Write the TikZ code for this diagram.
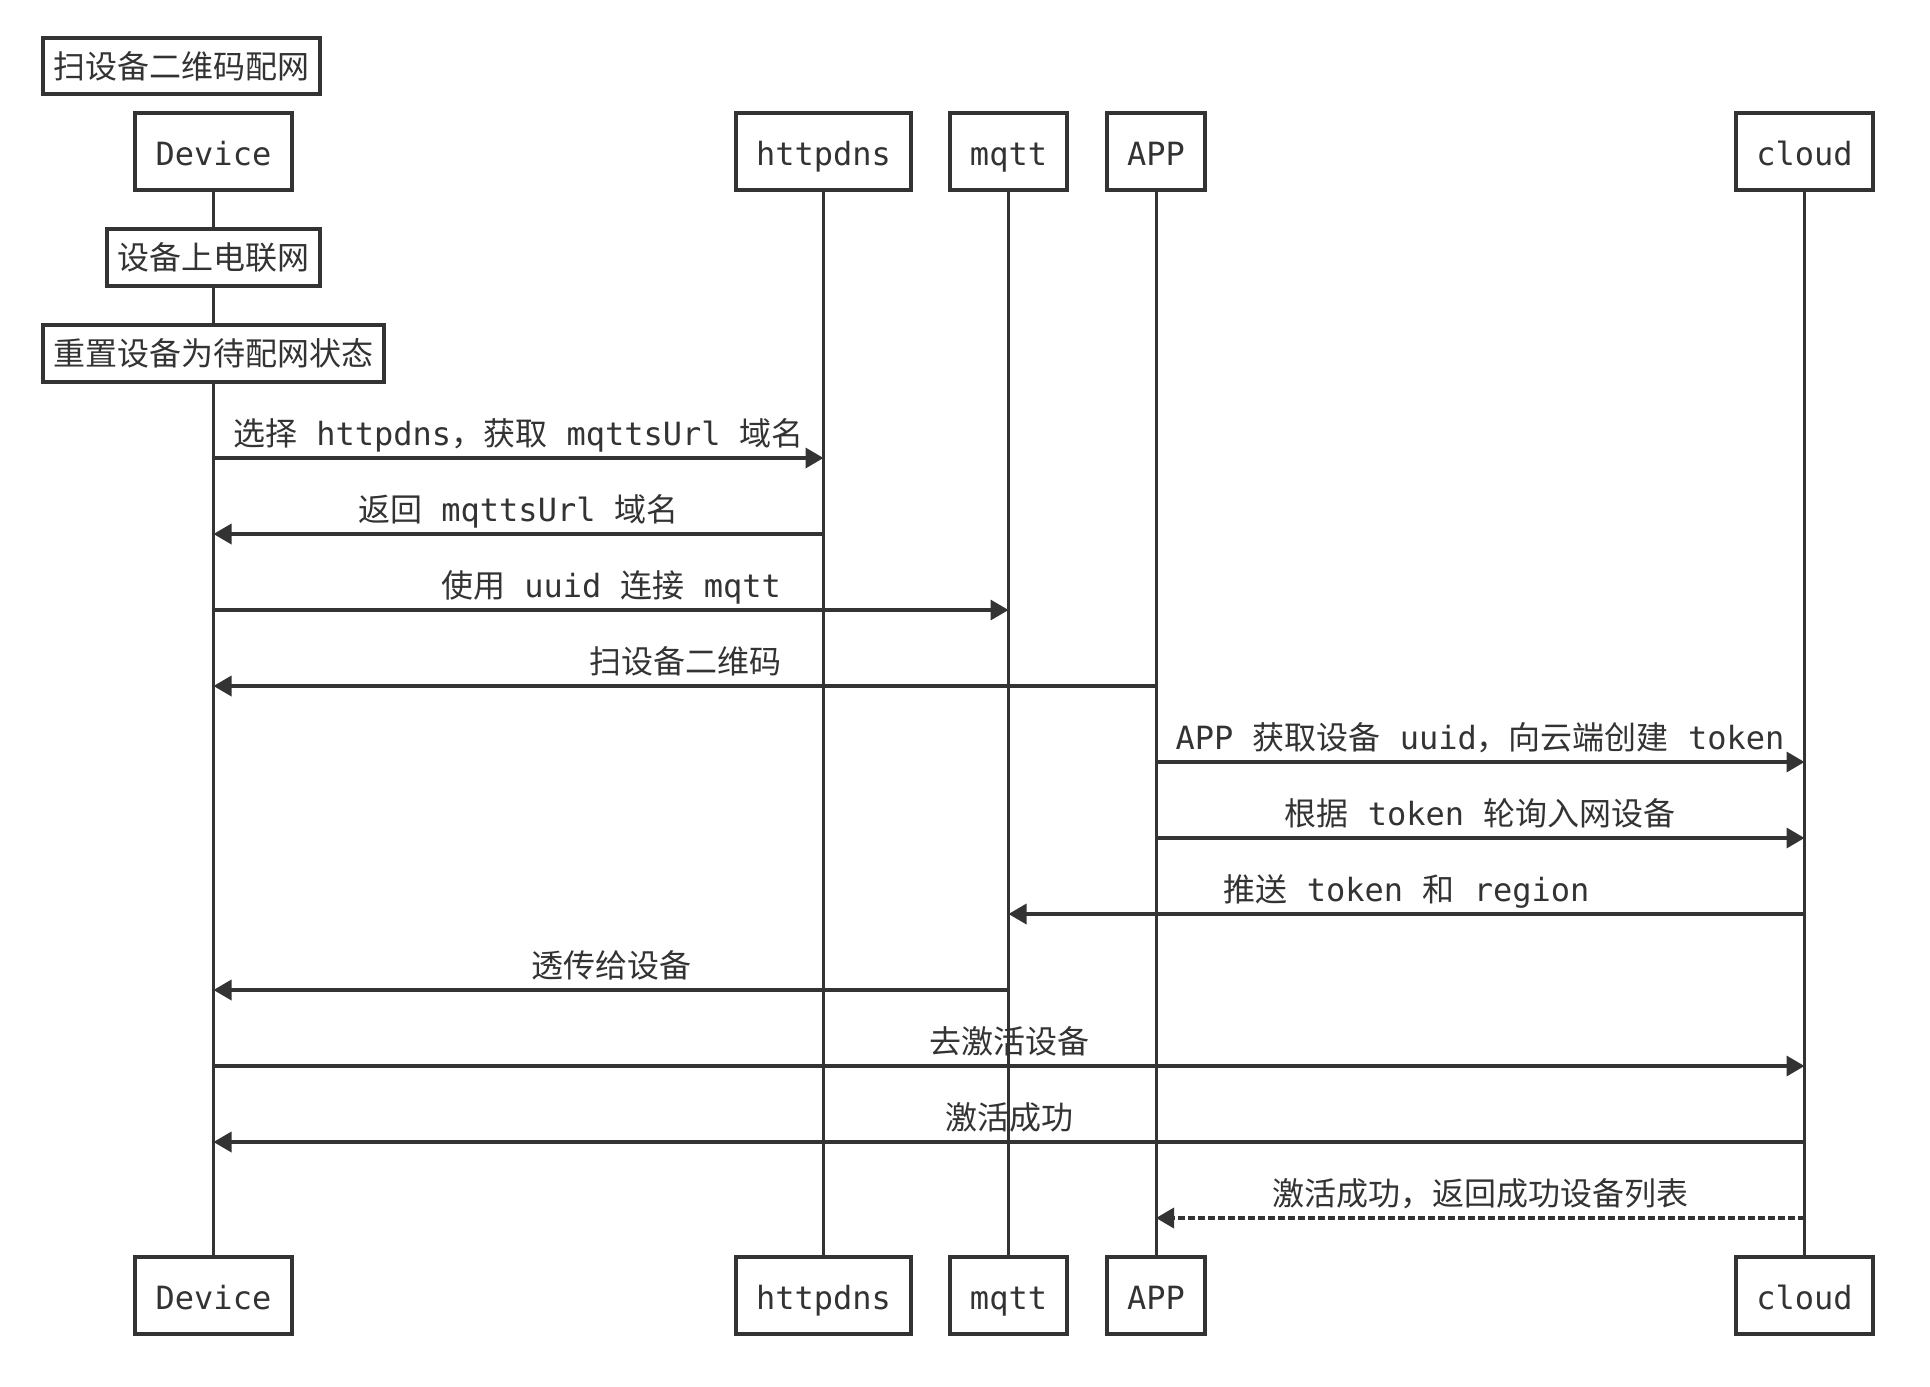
\documentclass[tikz,border=0pt]{standalone}
\usepackage{fontspec}
\setmainfont{DejaVu Sans Mono}
\newfontfamily\cjk{Noto Sans CJK SC}
\usetikzlibrary{arrows.meta}
\definecolor{ink}{HTML}{333333}
\tikzset{
  px/.style={x=0.5pt,y=-0.5pt},
  actor/.style={draw=ink,line width=1.8pt,fill=white,text=ink,minimum height=38.5pt,inner sep=0pt,text height=15.25pt,text depth=1.25pt,font=\fontsize{16}{19}\selectfont},
  notebox/.style={draw=ink,line width=1.8pt,fill=white,text=ink,minimum height=28.5pt,inner sep=0pt,font=\fontsize{16}{19}\cjk},
  life/.style={draw=ink,line width=1.5pt},
  msg/.style={draw=ink,line width=1.75pt,-{Triangle[length=9pt,width=10pt]}},
  rmsg/.style={msg,dash pattern=on 3.5pt off 1.5pt},
  lbl/.style={text=ink,anchor=base,inner sep=0pt,font=\fontsize{16}{19}\selectfont}
}
\begin{document}
\begin{tikzpicture}[px]
\useasboundingbox[fill=white] (0,0) rectangle (1930,1386);
% participants top
\node[actor,minimum width=78.5pt] (devT) at (213.5,151.5) {Device};
\node[actor,minimum width=87.5pt] (httT) at (823.5,151.5) {httpdns};
\node[actor,minimum width=58.5pt] (mqtT) at (1008.5,151.5) {mqtt};
\node[actor,minimum width=49pt] (appT) at (1156,151.5) {APP};
\node[actor,minimum width=68.5pt] (cldT) at (1804.5,151.5) {cloud};
% participants bottom
\node[actor,minimum width=78.5pt] (devB) at (213.5,1295.5) {Device};
\node[actor,minimum width=87.5pt] (httB) at (823.5,1295.5) {httpdns};
\node[actor,minimum width=58.5pt] (mqtB) at (1008.5,1295.5) {mqtt};
\node[actor,minimum width=49pt] (appB) at (1156,1295.5) {APP};
\node[actor,minimum width=68.5pt] (cldB) at (1804.5,1295.5) {cloud};
% lifelines
\draw[life] (devT.south) -- (devB.north);
\draw[life] (httT.south) -- (httB.north);
\draw[life] (mqtT.south) -- (mqtB.north);
\draw[life] (appT.south) -- (appB.north);
\draw[life] (cldT.south) -- (cldB.north);
% title and notes
\node[notebox,minimum width=138.5pt,minimum height=28pt] (title) at (181.5,66) {扫设备二维码配网};
\node[notebox,minimum width=106.5pt] (note1) at (213.5,257.5) {设备上电联网};
\node[notebox,minimum width=170.5pt] (note2) at (213.5,353.5) {重置设备为待配网状态};
% messages
\draw[msg] (devT |- 0,458) -- (httT |- 0,458);
\node[lbl] (m1) at (518.5,445) {{\cjk 选择} httpdns{\cjk ，获取} mqttsUrl {\cjk 域名}};
\draw[msg] (httT |- 0,534) -- (devT |- 0,534);
\node[lbl] (m2) at (518.5,521) {{\cjk 返回} mqttsUrl {\cjk 域名}};
\draw[msg] (devT |- 0,610) -- (mqtT |- 0,610);
\node[lbl] (m3) at (611,597) {{\cjk 使用} uuid {\cjk 连接} mqtt};
\draw[msg] (appT |- 0,686) -- (devT |- 0,686);
\node[lbl] (m4) at (685,673) {\cjk 扫设备二维码};
\draw[msg] (appT |- 0,762) -- (cldT |- 0,762);
\node[lbl] (m5) at (1480,749) {APP {\cjk 获取设备} uuid{\cjk ，向云端创建} token};
\draw[msg] (appT |- 0,838) -- (cldT |- 0,838);
\node[lbl] (m6) at (1480,825) {{\cjk 根据} token {\cjk 轮询入网设备}};
\draw[msg] (cldT |- 0,914) -- (mqtT |- 0,914);
\node[lbl] (m7) at (1406.5,901) {{\cjk 推送} token {\cjk 和} region};
\draw[msg] (mqtT |- 0,990) -- (devT |- 0,990);
\node[lbl] (m8) at (611,977) {\cjk 透传给设备};
\draw[msg] (devT |- 0,1066) -- (cldT |- 0,1066);
\node[lbl] (m9) at (1009,1053) {\cjk 去激活设备};
\draw[msg] (cldT |- 0,1142) -- (devT |- 0,1142);
\node[lbl] (m10) at (1009,1129) {\cjk 激活成功};
\draw[rmsg] (cldT |- 0,1218) -- (appT |- 0,1218);
\node[lbl] (m11) at (1480,1205) {\cjk 激活成功，返回成功设备列表};
\end{tikzpicture}
\end{document}
